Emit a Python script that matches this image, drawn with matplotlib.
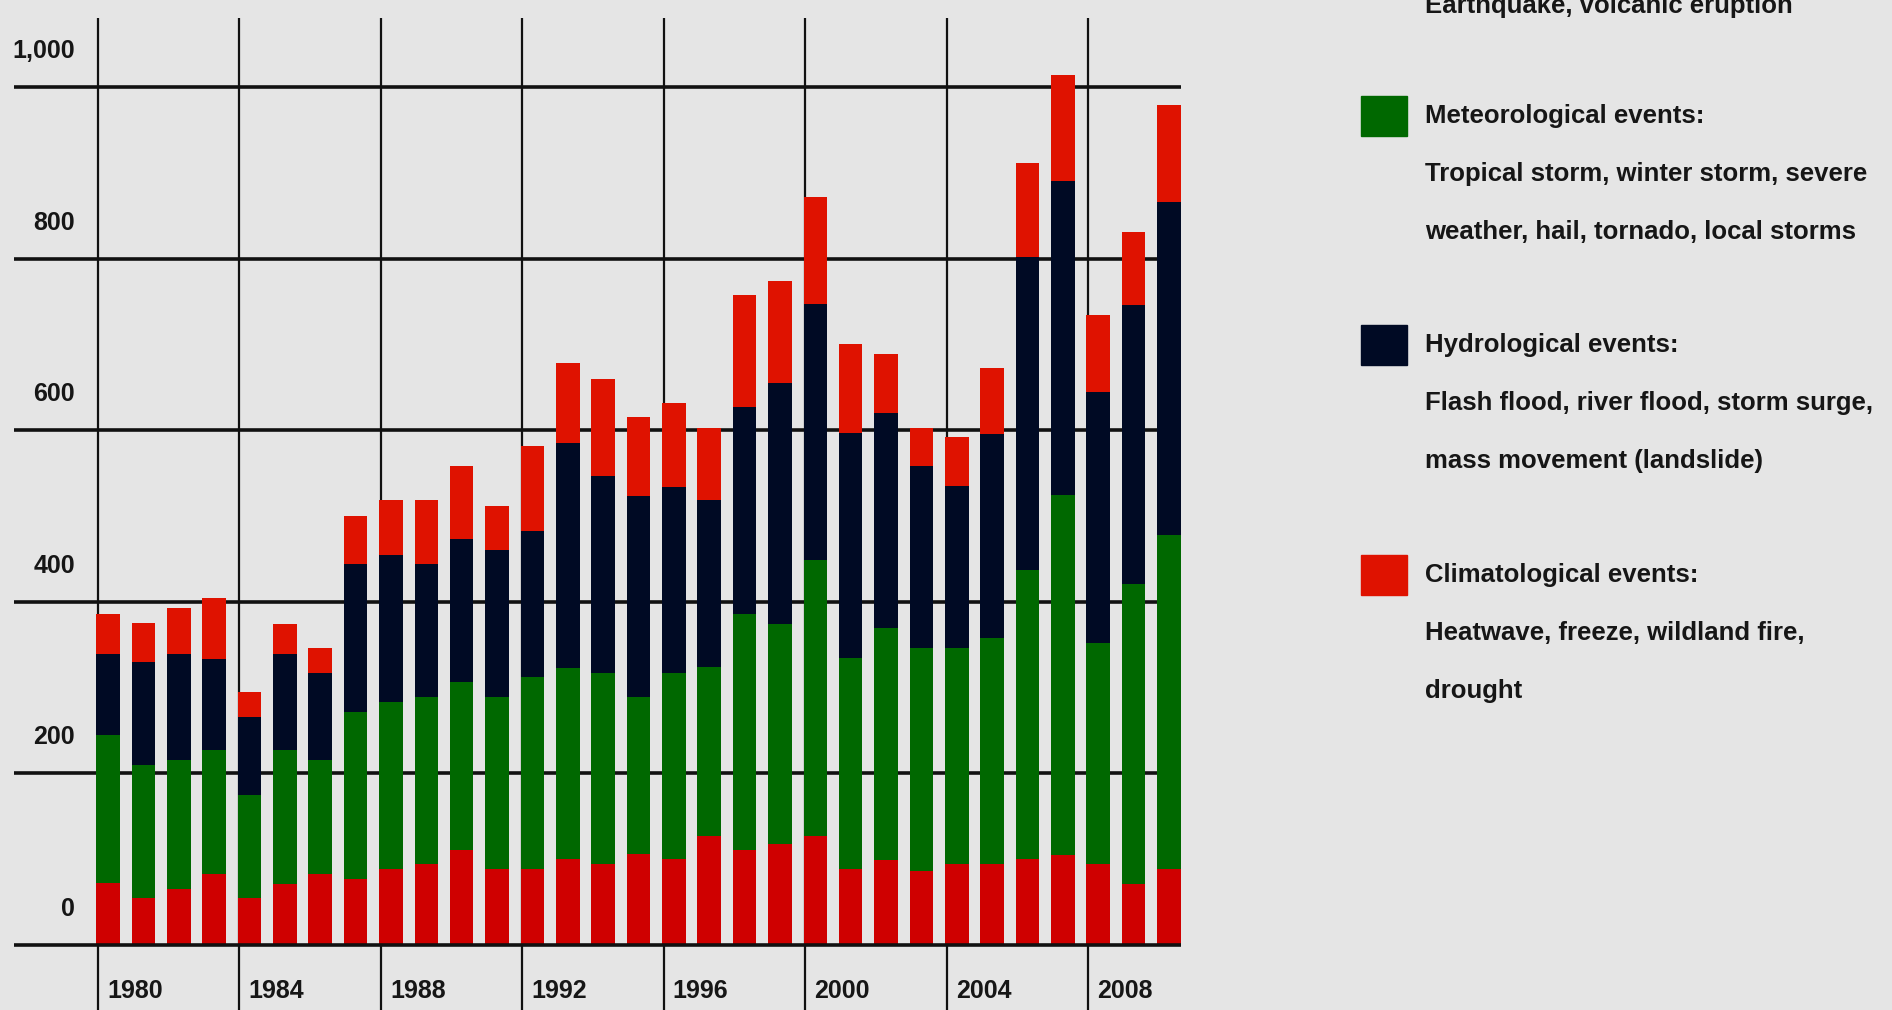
import matplotlib.pyplot as plt
import numpy as np

plt.rcParams["font.family"] = ["Liberation Sans", "DejaVu Sans"]

# Number of natural catastrophes per year, by event family
years = np.arange(1980, 2011)
geophysical = [72, 54, 65, 82, 54, 71, 82, 77, 88, 94, 110, 88, 88, 100, 94, 106,
               100, 127, 110, 117, 127, 88, 99, 86, 94, 94, 100, 105, 94, 71, 88]
meteorological = [172, 155, 150, 145, 121, 156, 133, 194, 195, 195, 196, 201, 224, 223, 223, 183,
                  217, 197, 275, 257, 322, 246, 270, 260, 252, 263, 337, 419, 258, 350, 390]
hydrological = [95, 120, 124, 106, 90, 112, 102, 173, 171, 155, 167, 171, 170, 262, 229, 234,
                217, 195, 242, 281, 298, 263, 251, 212, 189, 239, 365, 366, 292, 325, 388]
climatological = [47, 46, 53, 71, 29, 35, 29, 56, 64, 74, 85, 51, 99, 93, 114, 92,
                  98, 83, 131, 119, 125, 103, 69, 45, 57, 76, 109, 124, 90, 85, 113]

tick_years = list(range(1980, 2010, 4))
y_ticks = [0, 200, 400, 600, 800, 1000]
y_labels = ["0", "200", "400", "600", "800", "1,000"]

# the geophysical entry sits mostly above the top edge: only its last line shows
legend_titles = [None, "Meteorological events:",
                 "Hydrological events:", "Climatological events:"]
legend_desc = [
    ["Earthquake, volcanic eruption"],
    ["Tropical storm, winter storm, severe", "weather, hail, tornado, local storms"],
    ["Flash flood, river flood, storm surge,", "mass movement (landslide)"],
    ["Heatwave, freeze, wildland fire,", "drought"],
]

BG = "#e5e5e5"
GEO = "#cf0000"
MET = "#006800"
HYD = "#000a24"
CLI = "#df1200"
LEG_COLORS = [GEO, MET, HYD, CLI]
INK = "#161616"

W, H = 1892, 1010
fig = plt.figure(figsize=(W / 100, H / 100), dpi=100, facecolor=BG)
ax = fig.add_axes([14 / W, 0, 1167 / W, 992 / H])
ax.set_facecolor(BG)
ax.set_xlim(1977.34, 2010.34)
ax.set_ylim(-76.3, 1080.6)
ax.axis("off")

for y in y_ticks:
    ax.axhline(y, color="#111111", lw=2.6, zorder=4 if y == 0 else 1)
for yr in tick_years:
    ax.axvline(yr - 0.29, color="#111111", lw=1.6, zorder=1)

bw = 0.665
parts = [geophysical, meteorological, hydrological, climatological]
colors = [GEO, MET, HYD, CLI]
bottom = np.zeros(len(years))
for vals, c in zip(parts, colors):
    ax.bar(years, vals, bottom=bottom, width=bw, color=c, zorder=3, linewidth=0)
    bottom += np.array(vals)

tick_font = dict(fontsize=18, fontweight="bold", color=INK)
for y, lab in zip(y_ticks, y_labels):
    ax.text(1979.07, y + 42, lab, ha="right", va="center", **tick_font)
for yr in tick_years:
    ax.text(yr - 0.03, -54, str(yr), ha="left", va="center", **tick_font)

# legend, laid out in figure pixels
leg_font = dict(fontsize=18.5, fontweight="bold", color=INK)
line_gap = 58
item_tops = [-52, 116, 345, 575]
for title, desc, c, ty in zip(legend_titles, legend_desc, LEG_COLORS, item_tops):
    if title is not None:
        fig.patches.append(plt.Rectangle((1361 / W, 1 - (ty + 20) / H), 46 / W, 40 / H,
                                         transform=fig.transFigure, color=c))
        fig.text(1425 / W, 1 - ty / H, title, ha="left", va="center", **leg_font)
    for k, line in enumerate(desc):
        fig.text(1425 / W, 1 - (ty + line_gap * (k + 1)) / H, line,
                 ha="left", va="center", **leg_font)

fig.savefig("out.png", dpi=100, facecolor=BG)
